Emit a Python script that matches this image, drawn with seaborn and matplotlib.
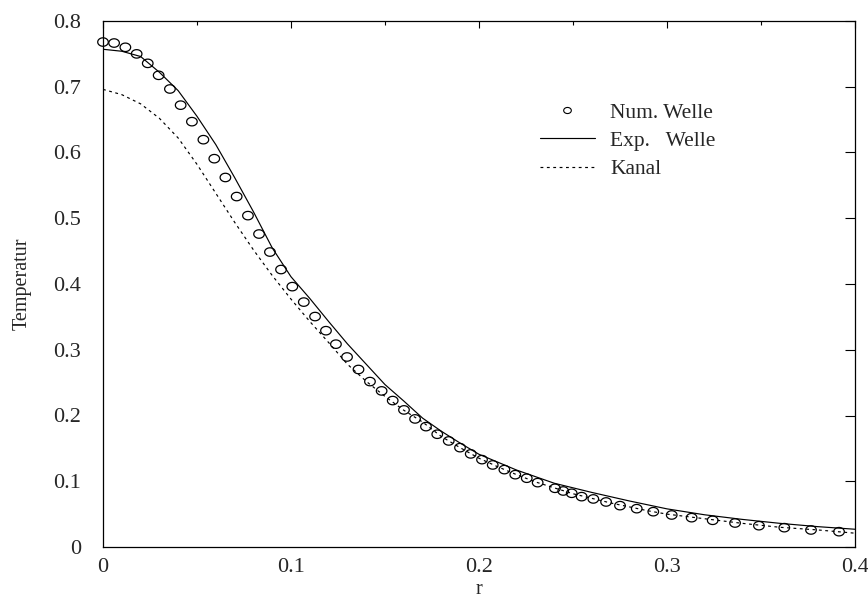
import numpy as np
import matplotlib
matplotlib.use("Agg")
import matplotlib.pyplot as plt
import seaborn as sns
from matplotlib.lines import Line2D
from matplotlib.path import Path
from matplotlib.legend_handler import HandlerLine2D
from matplotlib.ticker import MultipleLocator, FuncFormatter

# ---- data ----
num_r = [0.0000, 0.0059, 0.0119, 0.0179, 0.0238, 0.0296, 0.0356, 0.0413, 0.0473,
         0.0534, 0.0592, 0.0651, 0.0711, 0.0771, 0.0830, 0.0888, 0.0947, 0.1007,
         0.1068, 0.1128, 0.1186, 0.1239, 0.1298, 0.1359, 0.1420, 0.1482, 0.1541,
         0.1601, 0.1660, 0.1718, 0.1778, 0.1839, 0.1899, 0.1956, 0.2016, 0.2073,
         0.2135, 0.2193, 0.2254, 0.2312, 0.2404, 0.2448, 0.2493, 0.2546, 0.2608,
         0.2676, 0.2750, 0.2839, 0.2927, 0.3025, 0.3131, 0.3243, 0.3362, 0.3489,
         0.3624, 0.3766, 0.3915]
num_T = [0.768, 0.7665, 0.760, 0.750, 0.7356, 0.7174, 0.6966, 0.672, 0.6469,
         0.6195, 0.5906, 0.562, 0.533, 0.504, 0.476, 0.4486, 0.422, 0.396,
         0.3725, 0.3505, 0.329, 0.3085, 0.289, 0.270, 0.2516, 0.2374, 0.2227,
         0.2085, 0.1948, 0.1831, 0.1715, 0.1613, 0.1511, 0.1416, 0.1329, 0.1248,
         0.1177, 0.1100, 0.1046, 0.0979, 0.0893, 0.0852, 0.0817, 0.0766, 0.0731,
         0.0685, 0.0629, 0.0583, 0.0537, 0.0487, 0.0446, 0.0406, 0.0365, 0.0324,
         0.0294, 0.0259, 0.0233]

exp_r = [0.000, 0.010, 0.020, 0.030, 0.040, 0.050, 0.060, 0.070, 0.080, 0.090,
         0.100, 0.110, 0.120, 0.130, 0.140, 0.150, 0.160, 0.170, 0.180, 0.190,
         0.200, 0.220, 0.240, 0.260, 0.280, 0.300, 0.320, 0.340, 0.360, 0.380, 0.400]
exp_T = [0.757, 0.754, 0.746, 0.722, 0.694, 0.655, 0.612, 0.562, 0.510, 0.455,
         0.411, 0.378, 0.343, 0.309, 0.278, 0.247, 0.222, 0.196, 0.176, 0.158,
         0.141, 0.117, 0.097, 0.083, 0.070, 0.058, 0.049, 0.042, 0.036, 0.031, 0.027]

kanal_r = [0.000, 0.010, 0.020, 0.030, 0.040, 0.050, 0.060, 0.070, 0.080, 0.090,
           0.100, 0.110, 0.120, 0.130, 0.140, 0.150, 0.160, 0.170, 0.180, 0.190,
           0.200, 0.210, 0.220, 0.230, 0.240, 0.250, 0.260, 0.270, 0.280, 0.290,
           0.300, 0.320, 0.340, 0.360, 0.380, 0.400]
kanal_T = [0.696, 0.688, 0.674, 0.652, 0.622, 0.582, 0.538, 0.494, 0.452, 0.413,
           0.377, 0.343, 0.311, 0.278, 0.252, 0.229, 0.208, 0.190, 0.168, 0.151,
           0.135, 0.122, 0.110, 0.099, 0.090, 0.081, 0.074, 0.067, 0.061, 0.055,
           0.050, 0.043, 0.036, 0.030, 0.026, 0.021]

legend_labels = ["Num. Welle", "Exp.   Welle", "Kanal"]

# ---- style ----
sns.set_theme(style="white")
plt.rcParams['font.family'] = ['Liberation Serif', 'DejaVu Serif']

fig = plt.figure(figsize=(8.68, 6.04), dpi=100)
ax = fig.add_axes([103 / 868, 1 - 547 / 604, 752 / 868, 526 / 604])

# slightly flattened open circle marker
t = np.linspace(0, 2 * np.pi, 41)
ellipse = Path(np.column_stack([np.cos(t), 0.8 * np.sin(t)]), closed=True)

kanal_dash = (0, (2.4, 3.0))

sns.lineplot(x=exp_r, y=exp_T, ax=ax, color='black', linewidth=0.85,
             sort=False, estimator=None)
sns.lineplot(x=kanal_r, y=kanal_T, ax=ax, color='black', linewidth=0.85,
             sort=False, estimator=None)
ax.lines[-1].set_linestyle(kanal_dash)
sns.scatterplot(x=num_r, y=num_T, ax=ax, marker=ellipse, s=58,
                linewidth=0.9, edgecolor='black', facecolor='none')
for coll in ax.collections:
    coll.set_facecolor('none')
    coll.set_edgecolor('black')
    coll.set_clip_on(False)

ax.set_xlim(0, 0.4)
ax.set_ylim(0, 0.8)

ax.xaxis.set_major_locator(MultipleLocator(0.1))
ax.xaxis.set_minor_locator(MultipleLocator(0.05))
ax.yaxis.set_major_locator(MultipleLocator(0.1))
fmt = FuncFormatter(lambda v, p: '0' if abs(v) < 1e-9 else f'{v:.1f}')
ax.xaxis.set_major_formatter(fmt)
ax.yaxis.set_major_formatter(fmt)

ax.tick_params(which='both', direction='in', top=True, right=True,
               color='black', width=0.8)
ax.tick_params(axis='y', which='major', length=7, pad=16, labelsize=16)
ax.tick_params(axis='x', which='major', length=5, pad=8, labelsize=16)
ax.tick_params(axis='x', which='minor', length=3)

for s in ax.spines.values():
    s.set_color('black')
    s.set_linewidth(0.9)

ax.set_xlabel('r', fontsize=14.5)
ax.set_ylabel('Temperatur', fontsize=14.5)
ax.xaxis.set_label_coords(0.5, -0.062)
ax.yaxis.set_label_coords(-0.095, 0.5)


class RightMarkerHandler(HandlerLine2D):
    def get_xdata(self, legend, xdescent, ydescent, width, height, fontsize):
        return [-xdescent, -xdescent + width], [-xdescent + width]


h_num = Line2D([], [], linestyle='none', marker=ellipse, markersize=5.5,
               markerfacecolor='none', markeredgecolor='black', markeredgewidth=0.8)
h_exp = Line2D([], [], color='black', linewidth=0.85)
h_kan = Line2D([], [], color='black', linewidth=0.85, linestyle=kanal_dash)

ax.legend([h_num, h_exp, h_kan], legend_labels, loc='upper left',
          bbox_to_anchor=(0.581, 0.845), frameon=False, fontsize=15.5,
          handlelength=2.55, handletextpad=0.72, labelspacing=0.38,
          borderpad=0, borderaxespad=0,
          handler_map={h_num: RightMarkerHandler()})

fig.savefig('out.png', dpi=100)
